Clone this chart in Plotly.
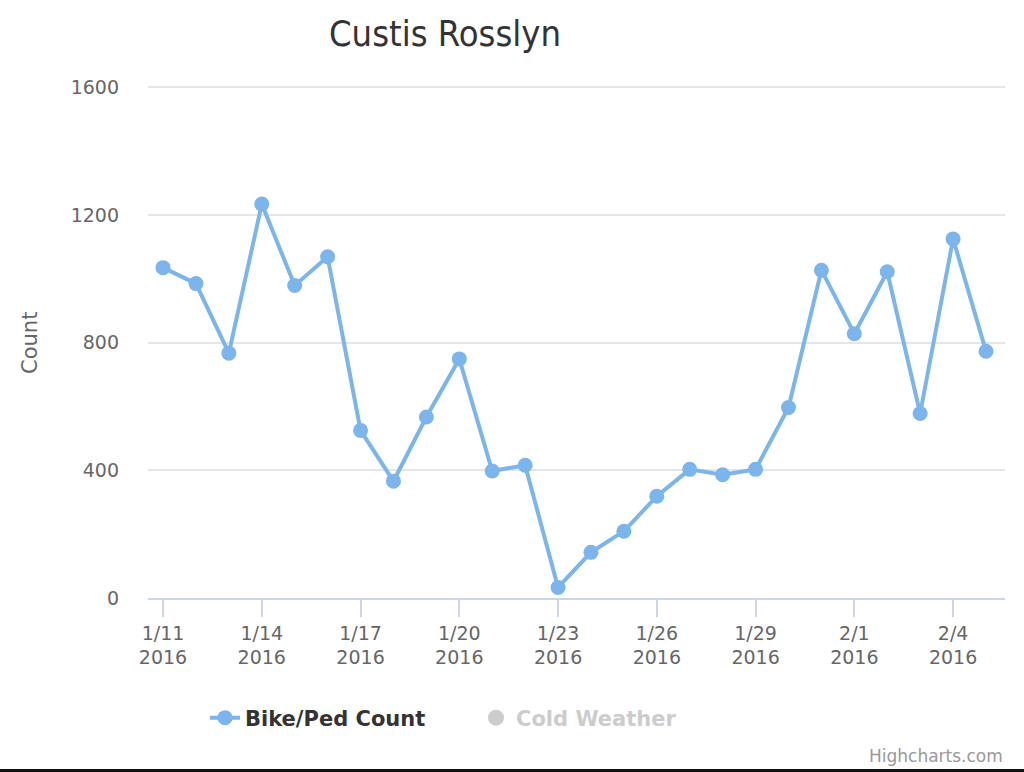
import plotly.graph_objects as go

dates = ["2016-01-11", "2016-01-12", "2016-01-13", "2016-01-14", "2016-01-15",
         "2016-01-16", "2016-01-17", "2016-01-18", "2016-01-19", "2016-01-20",
         "2016-01-21", "2016-01-22", "2016-01-23", "2016-01-24", "2016-01-25",
         "2016-01-26", "2016-01-27", "2016-01-28", "2016-01-29", "2016-01-30",
         "2016-01-31", "2016-02-01", "2016-02-02", "2016-02-03", "2016-02-04",
         "2016-02-05"]
counts = [1035, 985, 767, 1234, 979, 1069, 525, 366, 567, 749,
          398, 416, 33, 143, 209, 319, 403, 386, 403, 597,
          1027, 828, 1022, 578, 1125, 773]

tick_dates = ["2016-01-11", "2016-01-14", "2016-01-17", "2016-01-20", "2016-01-23",
              "2016-01-26", "2016-01-29", "2016-02-01", "2016-02-04"]
tick_labels = ["1/11<br>2016", "1/14<br>2016", "1/17<br>2016", "1/20<br>2016",
               "1/23<br>2016", "1/26<br>2016", "1/29<br>2016", "2/1<br>2016",
               "2/4<br>2016"]
y_ticks = [0, 400, 800, 1200, 1600]

W, H = 1024, 772
L, R, T, B = 148, 19, 86, 174
pw = W - L - R
ph = H - T - B

def px_x(x):
    return (x - L) / pw

def px_y(y):
    return (H - B - y) / ph

fig = go.Figure()
fig.add_trace(go.Scatter(
    x=dates, y=counts, mode="lines+markers", name="<b>Bike/Ped Count</b>",
    line=dict(color="#7cb5ec", width=4),
    marker=dict(color="#7cb5ec", size=15),
))
fig.add_trace(go.Scatter(
    x=[None], y=[None], mode="markers",
    name="<span style='color:#cccccc'><b>Cold Weather</b></span>",
    marker=dict(color="#cccccc", size=22),
))

fig.update_layout(
    width=W, height=H,
    margin=dict(l=L, r=R, t=T, b=B),
    paper_bgcolor="white", plot_bgcolor="white",
    font=dict(family="DejaVu Sans", color="#666666"),
    title=dict(text="Custis Rosslyn", x=445 / W, xanchor="center",
               y=1 - 33 / H, yanchor="middle",
               font=dict(family="Liberation Sans Narrow, DejaVu Sans Condensed, Roboto", size=36, color="#333333")),
    showlegend=True,
    legend=dict(orientation="h", x=px_x(205), xanchor="left", y=px_y(718), yanchor="middle",
                font=dict(family="DejaVu Sans", size=21, color="#333333"),
                itemsizing="trace", itemwidth=30, tracegroupgap=0,
                entrywidth=226, entrywidthmode="pixels",
                bgcolor="rgba(0,0,0,0)"),
    xaxis=dict(
        type="date",
        range=["2016-01-10 13:03", "2016-02-05 13:51"],
        tickmode="array", tickvals=tick_dates, ticktext=tick_labels,
        showgrid=False, zeroline=False,
        showline=True, linecolor="#ccd6eb", linewidth=1.5,
        ticks="outside", ticklen=17, tickwidth=1.5, tickcolor="#ccd6eb",
        tickfont=dict(family="DejaVu Sans", size=19, color="#666666"),
        fixedrange=True,
    ),
    yaxis=dict(
        range=[0, 1604],
        tickmode="array", tickvals=y_ticks,
        showgrid=True, gridcolor="#e6e6e6", gridwidth=1.5,
        zeroline=False, showline=False,
        ticks="", ticklabelstandoff=28,
        tickfont=dict(family="DejaVu Sans", size=19, color="#666666"),
        fixedrange=True,
    ),
    annotations=[
        dict(text="Count", xref="paper", yref="paper", x=px_x(30), y=px_y(343),
             xanchor="center", yanchor="middle", textangle=-90, showarrow=False,
             font=dict(family="DejaVu Sans", size=21, color="#666666")),
        dict(text="Highcharts.com", xref="paper", yref="paper", x=px_x(1005), y=px_y(756),
             xanchor="right", yanchor="middle", showarrow=False,
             font=dict(family="DejaVu Sans", size=17, color="#999999")),
    ],
    shapes=[
        dict(type="line", xref="paper", yref="paper", x0=px_x(0), x1=px_x(1024),
             y0=px_y(770.5), y1=px_y(770.5), line=dict(color="#111111", width=3)),
    ],
)

fig.write_html("out.html", config={"displayModeBar": False},
               post_script="document.body.style.margin='0px';")
